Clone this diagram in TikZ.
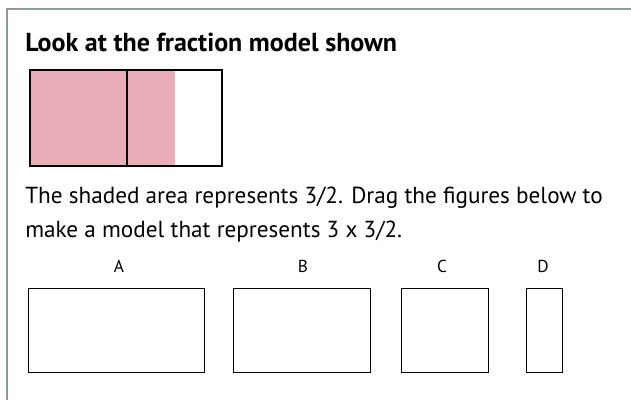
\documentclass[tikz,border=0pt]{standalone}
\usepackage{fontspec}
\setmainfont{PT Sans}
\usepackage{tikz}
\usetikzlibrary{positioning}
\definecolor{FrameGray}{RGB}{140,154,154}
\definecolor{ShadePink}{RGB}{232,173,183}

\begin{document}
\begin{tikzpicture}[x=0.75pt, y=-0.75pt,
	frame/.style={draw=FrameGray, line width=1.5pt},
	cell/.style={draw=black, line width=0.9pt},
	figbox/.style={draw=black, line width=0.9pt, inner sep=0pt, anchor=north west},
	lbl/.style={font=\fontsize{13}{15}\selectfont, inner sep=0pt},
	prose/.style={font=\fontsize{17.4}{20}\selectfont, anchor=base west, inner sep=0pt}]
	\useasboundingbox (0,0) rectangle (631,400);
	% marco
	\draw[frame] (631,9) -- (7,9) -- (7,400);

	% titulo
	\node[prose, font=\fontsize{19.5}{23}\selectfont\bfseries] (title) at (25,51)
		{Look at the fraction model shown};

	% modelo de fraccion
	\fill[ShadePink] (30,70) rectangle (175,166);
	\draw[cell] (30,70) rectangle (222,166);
	\draw[cell] (127,70) -- (127,166);

	% enunciado
	\node[prose] (line1) at (25,203)
		{The shaded area represents 3/2. Drag the figures below to};
	\node[prose] (line2) at (25,237)
		{make a model that represents 3 x 3/2.};

	% figuras A-D
	\node[figbox, minimum width=176*0.75pt, minimum height=84*0.75pt] (boxA) at (28,288) {};
	\node[figbox, minimum width=137*0.75pt, minimum height=84*0.75pt] (boxB) at (233,288) {};
	\node[figbox, minimum width=87*0.75pt, minimum height=84*0.75pt] (boxC) at (401,288) {};
	\node[figbox, minimum width=36*0.75pt, minimum height=84*0.75pt] (boxD) at (526,288) {};
	\node[lbl] (labA) at (119,266) {A};
	\node[lbl] (labB) at (303,266) {B};
	\node[lbl] (labC) at (442,266) {C};
	\node[lbl] (labD) at (543,266) {D};
\end{tikzpicture}
\end{document}
